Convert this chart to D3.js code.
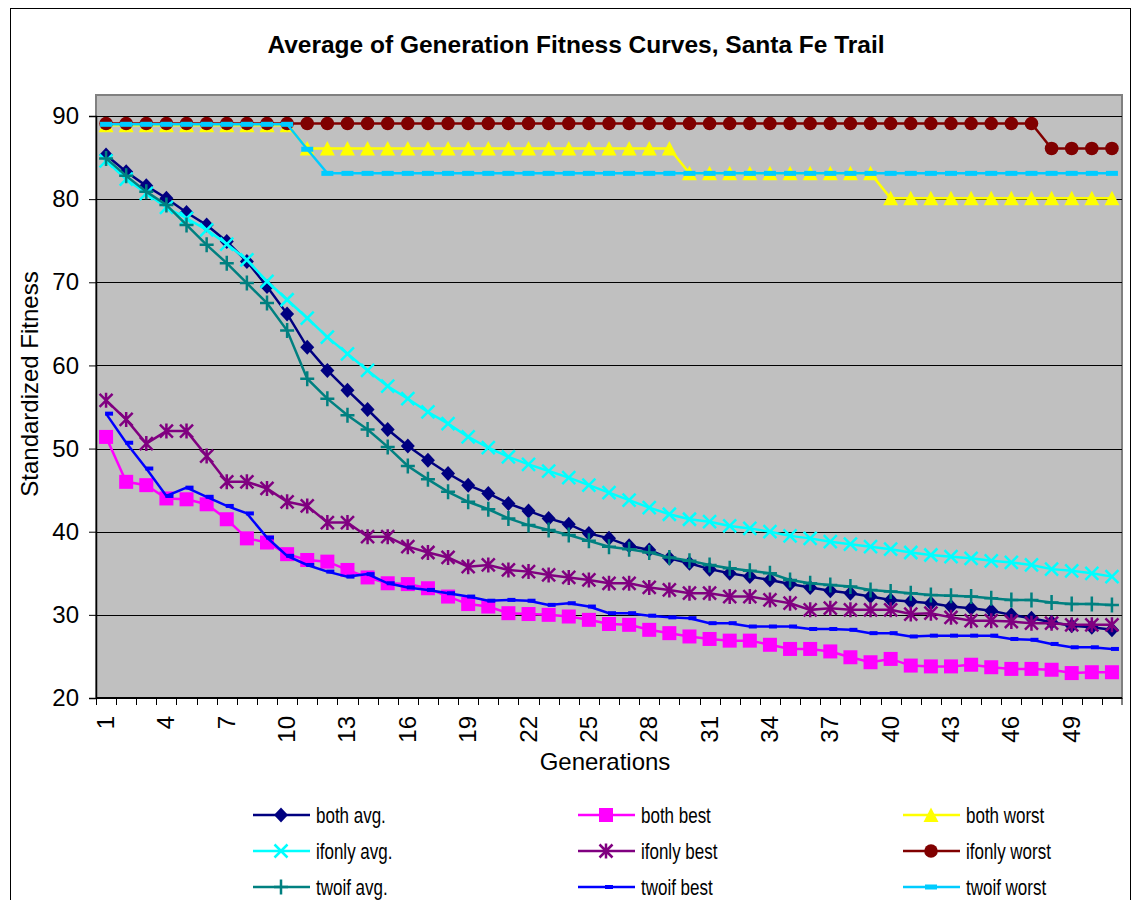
<!DOCTYPE html>
<html>
<head>
<meta charset="utf-8">
<script src="https://cdn.jsdelivr.net/npm/d3@7"></script>
<style>
  body { margin: 0; background: #fff; }
  svg text { font-family: Arial, "Liberation Sans", sans-serif; fill: #000; }
</style>
</head>
<body>
<svg id="chart" width="1135" height="900"></svg>
<script>
// generations 1..51
const generations = d3.range(1, 52);
const xTickLabels = [1, 4, 7, 10, 13, 16, 19, 22, 25, 28, 31, 34, 37, 40, 43, 46, 49];
const yTicks = [20, 30, 40, 50, 60, 70, 80, 90];

const bothAvg = [85.3, 83.3, 81.6, 80.1, 78.4, 76.9, 74.9, 72.5, 69.5, 66.2,
  62.2, 59.4, 57.0, 54.7, 52.3, 50.3, 48.6, 47.0, 45.6, 44.6,
  43.4, 42.5, 41.6, 40.9, 39.8, 39.2, 38.3, 37.8, 36.8, 36.2,
  35.5, 35.0, 34.6, 34.2, 33.7, 33.3, 32.9, 32.6, 32.2, 31.8,
  31.6, 31.4, 31.0, 30.8, 30.5, 30.0, 29.6, 29.1, 28.7, 28.5, 28.2];
const bothBest = [51.4, 46.0, 45.6, 44.0, 43.9, 43.3, 41.5, 39.2, 38.7, 37.3,
  36.6, 36.4, 35.4, 34.5, 33.8, 33.7, 33.2, 32.2, 31.3, 31.0,
  30.2, 30.1, 30.0, 29.8, 29.4, 28.9, 28.8, 28.2, 27.8, 27.4,
  27.1, 26.9, 26.9, 26.4, 25.9, 25.9, 25.6, 24.9, 24.3, 24.7,
  23.9, 23.8, 23.8, 24.0, 23.7, 23.5, 23.5, 23.4, 23.0, 23.1, 23.1];
const bothWorst = [88.9, 88.9, 88.9, 88.9, 88.9, 88.9, 88.9, 88.9, 88.9, 88.9,
  86.1, 86.1, 86.1, 86.1, 86.1, 86.1, 86.1, 86.1, 86.1, 86.1,
  86.1, 86.1, 86.1, 86.1, 86.1, 86.1, 86.1, 86.1, 86.1, 83.1,
  83.1, 83.1, 83.1, 83.1, 83.1, 83.1, 83.1, 83.1, 83.1, 80.1,
  80.1, 80.1, 80.1, 80.1, 80.1, 80.1, 80.1, 80.1, 80.1, 80.1, 80.1];
const ifonlyAvg = [84.6, 82.4, 80.7, 79.0, 77.7, 76.3, 74.6, 72.7, 70.1, 67.9,
  65.7, 63.4, 61.4, 59.4, 57.5, 56.0, 54.4, 53.0, 51.4, 50.1,
  49.0, 48.1, 47.3, 46.5, 45.6, 44.7, 43.8, 42.9, 42.1, 41.5,
  41.2, 40.7, 40.4, 40.0, 39.5, 39.2, 38.8, 38.5, 38.2, 37.9,
  37.5, 37.2, 37.0, 36.8, 36.5, 36.3, 36.0, 35.5, 35.3, 35.0, 34.6];
const ifonlyBest = [55.8, 53.5, 50.6, 52.1, 52.1, 49.1, 46.0, 46.0, 45.2, 43.6,
  43.1, 41.1, 41.1, 39.4, 39.4, 38.2, 37.5, 36.9, 35.8, 36.0,
  35.4, 35.2, 34.8, 34.5, 34.2, 33.8, 33.8, 33.3, 33.0, 32.6,
  32.6, 32.2, 32.2, 31.8, 31.4, 30.6, 30.8, 30.6, 30.6, 30.6,
  30.1, 30.2, 29.7, 29.3, 29.3, 29.2, 29.0, 29.0, 28.8, 28.8, 28.8];
const ifonlyWorst = [89.1, 89.1, 89.1, 89.1, 89.1, 89.1, 89.1, 89.1, 89.1, 89.1,
  89.1, 89.1, 89.1, 89.1, 89.1, 89.1, 89.1, 89.1, 89.1, 89.1,
  89.1, 89.1, 89.1, 89.1, 89.1, 89.1, 89.1, 89.1, 89.1, 89.1,
  89.1, 89.1, 89.1, 89.1, 89.1, 89.1, 89.1, 89.1, 89.1, 89.1,
  89.1, 89.1, 89.1, 89.1, 89.1, 89.1, 89.1, 86.1, 86.1, 86.1, 86.1];
const twoifAvg = [84.9, 82.8, 80.9, 79.3, 76.9, 74.5, 72.3, 69.9, 67.5, 64.2,
  58.4, 56.0, 54.0, 52.3, 50.2, 47.9, 46.3, 44.8, 43.6, 42.7,
  41.6, 40.8, 40.2, 39.6, 38.9, 38.2, 37.9, 37.5, 36.9, 36.5,
  36.0, 35.6, 35.3, 35.0, 34.2, 33.8, 33.6, 33.4, 33.0, 32.8,
  32.6, 32.4, 32.3, 32.2, 32.0, 31.8, 31.8, 31.5, 31.3, 31.3, 31.2];
const twoifBest = [54.2, 50.7, 47.6, 44.3, 45.3, 44.2, 43.1, 42.2, 39.3, 37.1,
  36.0, 35.2, 34.6, 34.9, 33.8, 33.3, 33.0, 32.6, 32.2, 31.7,
  31.8, 31.7, 31.2, 31.4, 31.0, 30.2, 30.2, 29.9, 29.7, 29.6,
  29.0, 29.0, 28.6, 28.6, 28.6, 28.3, 28.3, 28.2, 27.8, 27.8,
  27.4, 27.5, 27.5, 27.5, 27.5, 27.1, 27.0, 26.5, 26.1, 26.1, 25.9];
const twoifWorst = [89.0, 89.0, 89.0, 89.0, 89.0, 89.0, 89.0, 89.0, 89.0, 89.0,
  86.0, 83.1, 83.1, 83.1, 83.1, 83.1, 83.1, 83.1, 83.1, 83.1,
  83.1, 83.1, 83.1, 83.1, 83.1, 83.1, 83.1, 83.1, 83.1, 83.1,
  83.1, 83.1, 83.1, 83.1, 83.1, 83.1, 83.1, 83.1, 83.1, 83.1,
  83.1, 83.1, 83.1, 83.1, 83.1, 83.1, 83.1, 83.1, 83.1, 83.1, 83.1];

// series in legend order (this is also the drawing order)
const series = [
  { name: 'both avg.',    values: bothAvg,     color: '#000080', marker: 'diamond' },
  { name: 'both best',    values: bothBest,    color: '#FF00FF', marker: 'square' },
  { name: 'both worst',   values: bothWorst,   color: '#FFFF00', marker: 'triangle' },
  { name: 'ifonly avg.',  values: ifonlyAvg,   color: '#00FFFF', marker: 'x' },
  { name: 'ifonly best',  values: ifonlyBest,  color: '#800080', marker: 'star' },
  { name: 'ifonly worst', values: ifonlyWorst, color: '#800000', marker: 'circle' },
  { name: 'twoif avg.',   values: twoifAvg,    color: '#008080', marker: 'plus' },
  { name: 'twoif best',   values: twoifBest,   color: '#0000FF', marker: 'dash' },
  { name: 'twoif worst',  values: twoifWorst,  color: '#00CCFF', marker: 'bigdash' }
];

const svg = d3.select('#chart');

// chart area frame
svg.append('rect')
  .attr('x', 10.5).attr('y', 8.5)
  .attr('width', 1120).attr('height', 920)
  .attr('fill', '#fff').attr('stroke', '#000').attr('stroke-width', 1);

const plot = { left: 96, right: 1122, top: 95, bottom: 698 };

const x = d3.scaleBand().domain(generations).range([plot.left, plot.right]).padding(0);
const y = d3.scaleLinear().domain([20, 90]).range([plot.bottom, 116]);
const cx = g => x(g) + x.bandwidth() / 2;

// plot area
svg.append('rect')
  .attr('x', plot.left).attr('y', plot.top)
  .attr('width', plot.right - plot.left).attr('height', plot.bottom - plot.top)
  .attr('fill', '#C0C0C0').attr('stroke', '#808080').attr('stroke-width', 2);

// gridlines
svg.append('g').selectAll('line')
  .data(yTicks.filter(d => d > 20))
  .join('line')
  .attr('x1', plot.left).attr('x2', plot.right)
  .attr('y1', d => Math.round(y(d)) + 0.5).attr('y2', d => Math.round(y(d)) + 0.5)
  .attr('stroke', '#000').attr('stroke-width', 1);

// y axis
const yAxis = svg.append('g')
  .attr('transform', `translate(${plot.left},0)`)
  .call(d3.axisLeft(y).tickValues(yTicks).tickSize(7).tickPadding(10));
yAxis.select('.domain').attr('stroke', '#000').attr('stroke-width', 1.5);
yAxis.selectAll('.tick line').attr('stroke', '#000');
yAxis.selectAll('.tick text')
  .style('font-size', '24px').attr('font-family', 'Arial, "Liberation Sans", sans-serif');

// x axis: ticks on category boundaries, rotated labels
const xAxis = svg.append('g');
xAxis.append('line')
  .attr('x1', plot.left).attr('x2', plot.right)
  .attr('y1', plot.bottom).attr('y2', plot.bottom)
  .attr('stroke', '#000').attr('stroke-width', 2);
xAxis.selectAll('line.tk')
  .data(generations.concat([null]))
  .join('line')
  .attr('class', 'tk')
  .attr('x1', d => d === null ? plot.right : Math.round(x(d)) + 0.5)
  .attr('x2', d => d === null ? plot.right : Math.round(x(d)) + 0.5)
  .attr('y1', plot.bottom).attr('y2', plot.bottom + 7)
  .attr('stroke', '#000');
xAxis.selectAll('text')
  .data(xTickLabels)
  .join('text')
  .attr('transform', d => `translate(${cx(d) + 8},716) rotate(-90)`)
  .attr('text-anchor', 'end')
  .style('font-size', '24px')
  .text(d => d);

// title + axis titles
svg.append('text')
  .attr('x', 576).attr('y', 53)
  .attr('text-anchor', 'middle')
  .style('font-size', '24.5px').style('font-weight', 'bold')
  .text('Average of Generation Fitness Curves, Santa Fe Trail');

svg.append('text')
  .attr('transform', 'translate(38,384) rotate(-90)')
  .attr('text-anchor', 'middle')
  .style('font-size', '24px')
  .text('Standardized Fitness');

svg.append('text')
  .attr('x', 605).attr('y', 770)
  .attr('text-anchor', 'middle')
  .style('font-size', '24px')
  .text('Generations');

// marker drawing
function drawMarker(sel, type, color) {
  if (type === 'diamond') {
    sel.append('path').attr('d', 'M0,-7.5L7,0L0,7.5L-7,0Z').attr('fill', color);
  } else if (type === 'square') {
    sel.append('rect').attr('x', -7).attr('y', -7).attr('width', 14).attr('height', 14).attr('fill', color);
  } else if (type === 'triangle') {
    sel.append('path').attr('d', 'M0,-7.5L7.5,7L-7.5,7Z').attr('fill', color);
  } else if (type === 'circle') {
    sel.append('circle').attr('r', 6.8).attr('fill', color);
  } else if (type === 'x') {
    sel.append('path').attr('d', 'M-6.5,-6.5L6.5,6.5M-6.5,6.5L6.5,-6.5')
      .attr('stroke', color).attr('stroke-width', 2.5).attr('fill', 'none');
  } else if (type === 'star') {
    sel.append('path').attr('d', 'M-6.5,-6.5L6.5,6.5M-6.5,6.5L6.5,-6.5M0,-7.5L0,7.5')
      .attr('stroke', color).attr('stroke-width', 2.5).attr('fill', 'none');
  } else if (type === 'plus') {
    sel.append('path').attr('d', 'M-7,0L7,0M0,-7.5L0,7.5')
      .attr('stroke', color).attr('stroke-width', 2.5).attr('fill', 'none');
  } else if (type === 'dash') {
    sel.append('rect').attr('x', -1).attr('y', -2).attr('width', 8).attr('height', 4).attr('fill', color);
  } else if (type === 'bigdash') {
    sel.append('rect').attr('x', -6).attr('y', -2.5).attr('width', 12).attr('height', 5).attr('fill', color);
  }
}

const line = d3.line()
  .x((d, i) => cx(generations[i]))
  .y(d => y(d));

series.forEach(s => {
  const g = svg.append('g').attr('class', 'series');
  g.append('path')
    .attr('d', line(s.values))
    .attr('fill', 'none')
    .attr('stroke', s.color)
    .attr('stroke-width', 2.5);
  g.selectAll('g.m')
    .data(s.values)
    .join('g')
    .attr('class', 'm')
    .attr('transform', (d, i) => `translate(${cx(generations[i])},${y(d)})`)
    .each(function () { drawMarker(d3.select(this), s.marker, s.color); });
});

// legend: 3 columns x 3 rows, filled row by row (legend text is drawn narrow)
const legendCols = [253, 578, 903];
const legendRows = [815, 851, 887];
const legend = svg.append('g');
series.forEach((s, i) => {
  const lx = legendCols[i % 3];
  const ly = legendRows[Math.floor(i / 3)];
  const item = legend.append('g').attr('transform', `translate(${lx},${ly})`);
  item.append('line')
    .attr('x1', 0).attr('x2', 57).attr('y1', 0).attr('y2', 0)
    .attr('stroke', s.color).attr('stroke-width', 2.5);
  drawMarker(item.append('g').attr('transform', 'translate(28,0)'), s.marker, s.color);
  item.append('text')
    .attr('transform', 'translate(63,7.5) scale(0.79,1)')
    .style('font-size', '21.5px')
    .text(s.name);
});
</script>
</body>
</html>
